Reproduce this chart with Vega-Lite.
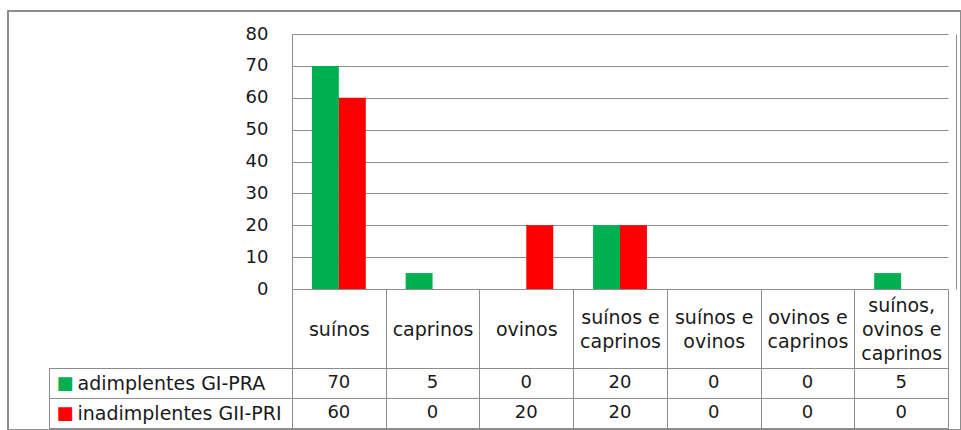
{
  "$schema": "https://vega.github.io/schema/vega-lite/v6.json",
  "width": 953,
  "height": 419,
  "autosize": "none",
  "padding": {"left": 8, "top": 11, "right": 0, "bottom": 0},
  "background": "white",
  "config": {
    "view": {"stroke": "#8c8c8c", "strokeWidth": 2},
    "font": "DejaVu Sans",
    "axis": {"labelFont": "DejaVu Sans", "labelColor": "#1a1a1a", "labelFontSize": 18, "title": null}
  },
  "data": {
    "values": [
      {"categoria": "suínos", "serie": "adimplentes GI-PRA", "valor": 70},
      {"categoria": "caprinos", "serie": "adimplentes GI-PRA", "valor": 5},
      {"categoria": "ovinos", "serie": "adimplentes GI-PRA", "valor": 0},
      {"categoria": "suínos e caprinos", "serie": "adimplentes GI-PRA", "valor": 20},
      {"categoria": "suínos e ovinos", "serie": "adimplentes GI-PRA", "valor": 0},
      {"categoria": "ovinos e caprinos", "serie": "adimplentes GI-PRA", "valor": 0},
      {"categoria": "suínos, ovinos e caprinos", "serie": "adimplentes GI-PRA", "valor": 5},
      {"categoria": "suínos", "serie": "inadimplentes GII-PRI", "valor": 60},
      {"categoria": "caprinos", "serie": "inadimplentes GII-PRI", "valor": 0},
      {"categoria": "ovinos", "serie": "inadimplentes GII-PRI", "valor": 20},
      {"categoria": "suínos e caprinos", "serie": "inadimplentes GII-PRI", "valor": 20},
      {"categoria": "suínos e ovinos", "serie": "inadimplentes GII-PRI", "valor": 0},
      {"categoria": "ovinos e caprinos", "serie": "inadimplentes GII-PRI", "valor": 0},
      {"categoria": "suínos, ovinos e caprinos", "serie": "inadimplentes GII-PRI", "valor": 0}
    ]
  },
  "encoding": {
    "x": {
      "field": "categoria",
      "type": "nominal",
      "scale": {
        "domain": ["suínos", "caprinos", "ovinos", "suínos e caprinos", "suínos e ovinos", "ovinos e caprinos", "suínos, ovinos e caprinos"],
        "range": [284, 940],
        "paddingInner": 0,
        "paddingOuter": 0
      },
      "axis": {
        "orient": "bottom",
        "offset": -141,
        "domain": false,
        "grid": false,
        "ticks": true,
        "tickBand": "extent",
        "tickSize": 139,
        "tickColor": "#8c8c8c",
        "tickWidth": 1,
        "labelPadding": -123,
        "labelBaseline": "middle",
        "labelAlign": "center",
        "labelAngle": 0,
        "labelFontSize": 19,
        "labelLineHeight": 12,
        "labelExpr": "datum.label == 'suínos, ovinos e caprinos' ? ['suínos,', '\u200b', 'ovinos e', '\u200b', 'caprinos'] : (indexof(datum.label, ' e ') > 0 ? ['\u200b', split(datum.label, ' e ')[0] + ' e', '\u200b', split(datum.label, ' e ')[1]] : ['\u200b', '\u200b', datum.label])",
        "labelOverlap": false,
        "labelBound": false,
        "labelFlush": false,
        "labelLimit": 0,
        "title": null
      }
    }
  },
  "layer": [
    {
      "mark": {"type": "bar"},
      "encoding": {
        "xOffset": {
          "field": "serie",
          "type": "nominal",
          "scale": {"domain": ["adimplentes GI-PRA", "inadimplentes GII-PRI"], "paddingInner": 0, "paddingOuter": 0.74}
        },
        "y": {
          "field": "valor",
          "type": "quantitative",
          "scale": {"domain": [0, 80], "range": [278, 23], "nice": false},
          "axis": {
            "orient": "left",
            "offset": -284,
            "values": [0, 10, 20, 30, 40, 50, 60, 70, 80],
            "grid": true,
            "gridColor": "#8c8c8c",
            "domain": true,
            "domainColor": "#8c8c8c",
            "ticks": false,
            "labelPadding": 24,
            "labelFontSize": 18,
            "title": null
          }
        },
        "color": {
          "field": "serie",
          "type": "nominal",
          "scale": {"domain": ["adimplentes GI-PRA", "inadimplentes GII-PRI"], "range": ["#00b050", "#ff0000"]},
          "legend": null
        }
      }
    },
    {
      "mark": {"type": "text", "fontSize": 18, "font": "DejaVu Sans", "color": "#1a1a1a"},
      "encoding": {
        "y": {
          "field": "serie",
          "type": "nominal",
          "scale": {"domain": ["adimplentes GI-PRA", "inadimplentes GII-PRI"], "range": [357, 417], "paddingInner": 0, "paddingOuter": 0},
          "axis": {
            "orient": "left",
            "offset": -284,
            "tickBand": "extent",
            "ticks": true,
            "tickSize": 243,
            "tickColor": "#8c8c8c",
            "domain": true,
            "domainColor": "#8c8c8c",
            "grid": true,
            "gridColor": "#8c8c8c",
            "labelAlign": "left",
            "labelPadding": -28,
            "labelBaseline": "middle",
            "labelFontSize": 19,
            "labelLimit": 0,
            "title": null
          }
        },
        "text": {"field": "valor", "type": "quantitative"}
      }
    },
    {
      "mark": {"type": "text", "opacity": 0},
      "encoding": {
        "y": {
          "field": "serie",
          "type": "nominal",
          "scale": {"domain": ["adimplentes GI-PRA", "inadimplentes GII-PRI"], "range": [357, 417], "paddingInner": 0, "paddingOuter": 0},
          "axis": {
            "orient": "left",
            "offset": -41,
            "domain": true,
            "domainColor": "#8c8c8c",
            "ticks": false,
            "grid": false,
            "labelExpr": "'■'",
            "labelColor": {"condition": {"test": "datum.value === 'adimplentes GI-PRA'", "value": "#00b050"}, "value": "#ff0000"},
            "labelAlign": "left",
            "labelPadding": -7,
            "labelBaseline": "middle",
            "labelFontSize": 18,
            "title": null
          }
        },
        "text": {"field": "valor", "type": "quantitative"}
      }
    },
    {
      "mark": {"type": "bar", "opacity": 0},
      "encoding": {
        "y": {
          "field": "valor",
          "type": "quantitative",
          "scale": {"domain": [0, 80], "range": [278, 23], "nice": false},
          "axis": {
            "orient": "right",
            "offset": -5,
            "domain": true,
            "domainColor": "#8c8c8c",
            "labels": false,
            "ticks": false,
            "grid": false,
            "title": null
          }
        }
      }
    }
  ],
  "resolve": {"scale": {"y": "independent"}, "axis": {"y": "independent"}}
}
